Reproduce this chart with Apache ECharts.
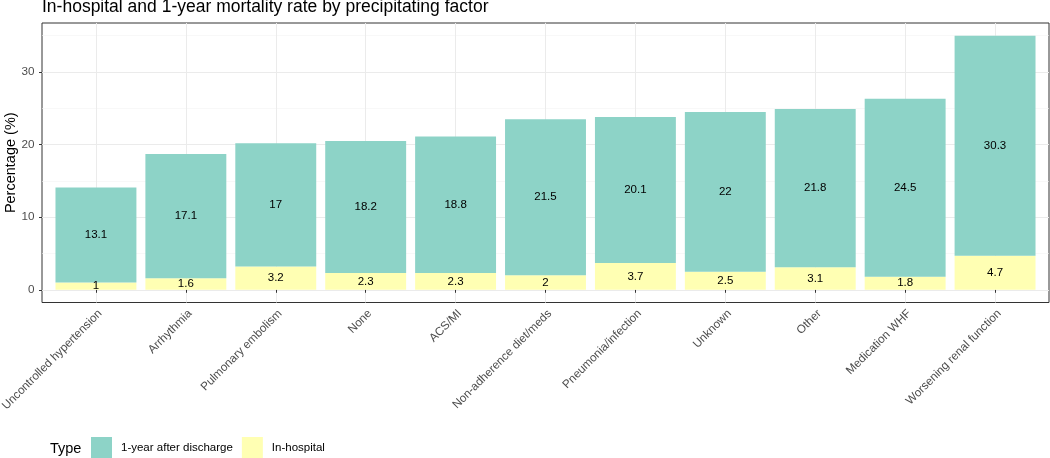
<!DOCTYPE html>
<html><head><meta charset="utf-8">
<script src="https://cdn.jsdelivr.net/npm/echarts@6/dist/echarts.min.js"></script>
<style>html,body{margin:0;padding:0;background:#fff}#c{width:1050px;height:458px}</style>
</head><body><div id="c"></div>
<script>
const categories = ['Uncontrolled hypertension','Arrhythmia','Pulmonary embolism','None','ACS/MI','Non-adherence diet/meds','Pneumonia/infection','Unknown','Other','Medication WHF','Worsening renal function'];
const inHospital = [1, 1.6, 3.2, 2.3, 2.3, 2, 3.7, 2.5, 3.1, 1.8, 4.7];
const oneYear = [13.1, 17.1, 17, 18.2, 18.8, 21.5, 20.1, 22, 21.8, 24.5, 30.3];
const yTicks = [0, 10, 20, 30];
const seriesNames = ['1-year after discharge', 'In-hospital'];

const FONT = "'Liberation Sans', Arial, sans-serif";
const chart = echarts.init(document.getElementById('c'), null, {renderer: 'canvas'});
const panelTop = 23, panelBottom = 302.5, panelLeft = 42, panelWidth = 1007;
const yMin = -1.75, yMax = 36.75;
const pxPerUnit = (panelBottom - panelTop) / (yMax - yMin);
const y0 = panelBottom + yMin * pxPerUnit;
const catW = panelWidth / (categories.length + 0.2);

chart.setOption({
  animation: false,
  textStyle: {fontFamily: FONT},
  title: [
    {text: 'In-hospital and 1-year mortality rate by precipitating factor', left: 42, top: -2, padding: 0,
     textStyle: {fontSize: 17.5, fontWeight: 'normal', color: '#000', fontFamily: FONT}},
    {text: 'Type', left: 50, top: 441, padding: 0,
     textStyle: {fontSize: 14.5, fontWeight: 'normal', color: '#000', fontFamily: FONT}}
  ],
  legend: {
    data: seriesNames, left: 91, top: 437, itemWidth: 21, itemHeight: 21, itemGap: 9, icon: 'rect',
    padding: 0, selectedMode: false,
    textStyle: {fontSize: 11.5, color: '#000', padding: [0, 0, 0, 4], fontFamily: FONT}
  },
  grid: [
    {left: panelLeft, top: panelTop, width: panelWidth, height: panelBottom - panelTop, show: true,
     borderColor: '#333', borderWidth: 1, backgroundColor: 'transparent', containLabel: false, outerBoundsMode: 'none'},
    {left: panelLeft, top: y0 - 40 * pxPerUnit, width: panelWidth, height: 40 * pxPerUnit, containLabel: false, outerBoundsMode: 'none'},
    {left: panelLeft + 0.6 * catW, top: panelTop, width: (categories.length - 1) * catW, height: panelBottom - panelTop, containLabel: false, outerBoundsMode: 'none'}
  ],
  xAxis: [
    {gridIndex: 0, type: 'value', show: false, min: 0, max: 1},
    {gridIndex: 1, type: 'value', show: false, min: 0, max: 1},
    {gridIndex: 2, type: 'category', data: categories, boundaryGap: false,
     axisLine: {show: false},
     axisTick: {show: true, length: 3, lineStyle: {color: '#333'}},
     axisLabel: {rotate: 45, fontSize: 11.7, color: '#4d4d4d', margin: 5, interval: 0, fontFamily: FONT,
                 align: 'right', verticalAlign: 'top'},
     splitLine: {show: true, lineStyle: {color: '#ebebeb', width: 1}}}
  ],
  yAxis: [
    {gridIndex: 0, type: 'value', min: 0, max: 1, axisLine: {show: false}, axisTick: {show: false},
     axisLabel: {show: false}, splitLine: {show: false},
     name: 'Percentage (%)', nameLocation: 'middle', nameGap: 24,
     nameTextStyle: {fontSize: 14.5, color: '#000', fontFamily: FONT}},
    {gridIndex: 1, type: 'value', min: 0, max: 40, interval: 10,
     axisLine: {show: false},
     axisTick: {show: true, length: 3, lineStyle: {color: '#333'}},
     axisLabel: {color: '#4d4d4d', fontSize: 11.7, margin: 7.5, showMaxLabel: false, fontFamily: FONT,
                 formatter: v => yTicks.includes(v) ? String(v) : ''},
     splitLine: {show: true, lineStyle: {color: '#ebebeb', width: 1}},
     minorTick: {show: false, splitNumber: 2},
     minorSplitLine: {show: true, lineStyle: {color: '#f4f4f4', width: 0.6}}},
    {gridIndex: 2, type: 'value', min: yMin, max: yMax, show: false}
  ],
  series: [
    {type: 'bar', name: seriesNames[1], xAxisIndex: 2, yAxisIndex: 2, stack: 't', data: inHospital,
     barWidth: '90%', clip: false, itemStyle: {color: '#FFFFB3'},
     label: {show: true, position: 'inside', color: '#000', fontSize: 11.5, textBorderWidth: 0, fontFamily: FONT}},
    {type: 'bar', name: seriesNames[0], xAxisIndex: 2, yAxisIndex: 2, stack: 't', data: oneYear,
     barWidth: '90%', clip: false, itemStyle: {color: '#8DD3C7'},
     label: {show: true, position: 'inside', color: '#000', fontSize: 11.5, textBorderWidth: 0, fontFamily: FONT}}
  ]
});
</script></body></html>
